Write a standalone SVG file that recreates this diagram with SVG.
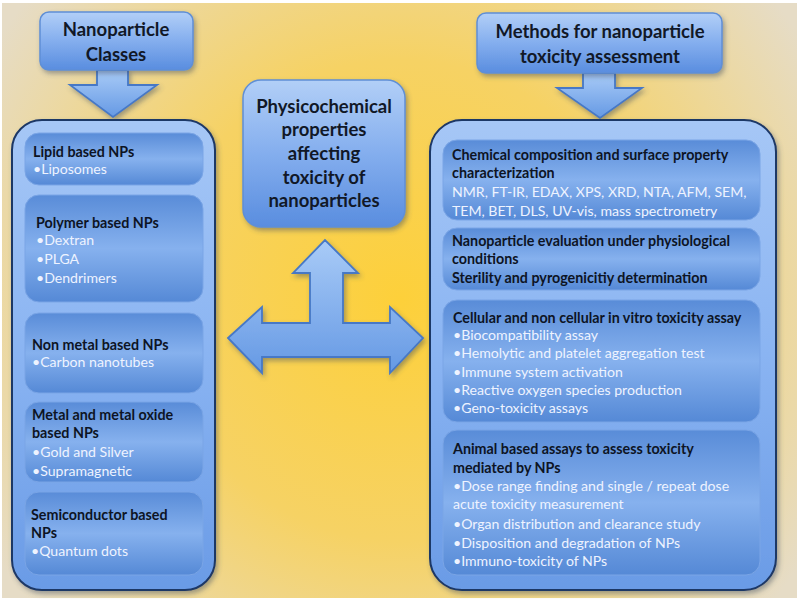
<svg xmlns="http://www.w3.org/2000/svg" width="800" height="601" viewBox="0 0 800 601">
<defs>
<radialGradient id="bg" cx="400" cy="300" r="480" gradientUnits="userSpaceOnUse">
<stop offset="0" stop-color="#fdd03a"/>
<stop offset="0.5" stop-color="#f6d264"/>
<stop offset="1" stop-color="#e6dcc6"/>
</radialGradient>
<linearGradient id="title" x1="0" y1="0" x2="0" y2="1">
<stop offset="0" stop-color="#b2cff7"/>
<stop offset="0.5" stop-color="#84aeee"/>
<stop offset="1" stop-color="#598ddf"/>
</linearGradient>
<linearGradient id="cont" x1="0" y1="0" x2="0" y2="1">
<stop offset="0" stop-color="#a6c7f6"/>
<stop offset="0.5" stop-color="#8ab4f2"/>
<stop offset="1" stop-color="#6a9be6"/>
</linearGradient>
<linearGradient id="inner" x1="0" y1="0" x2="0" y2="1">
<stop offset="0" stop-color="#598cd8"/>
<stop offset="0.5" stop-color="#86b1ee"/>
<stop offset="1" stop-color="#5589d6"/>
</linearGradient>
<linearGradient id="arr" x1="0" y1="0" x2="0" y2="1">
<stop offset="0" stop-color="#a9cbf7"/>
<stop offset="1" stop-color="#6599e4"/>
</linearGradient>
<filter id="sh" x="-10%" y="-10%" width="130%" height="130%">
<feDropShadow dx="2" dy="3" stdDeviation="2.5" flood-color="#3a4a60" flood-opacity="0.45"/>
</filter>
</defs>
<style>
.t{font-family:Lato,"Liberation Sans",sans-serif;font-weight:bold;fill:#111827;text-anchor:middle;font-size:18.5px}
.h{font-family:Lato,"Liberation Sans",sans-serif;font-weight:bold;fill:#0d1424;font-size:14.3px}
.i{font-family:Lato,"Liberation Sans",sans-serif;fill:#eef3ff;font-size:14.1px}
.title{fill:url(#title);stroke:#5f8fd6;stroke-width:1.5;filter:url(#sh)}
.cont{fill:url(#cont);stroke:#1d3766;stroke-width:2;filter:url(#sh)}
.inner{fill:url(#inner);stroke:#7aa5e6;stroke-width:1}
.arrow{fill:url(#arr);stroke:#4678c6;stroke-width:1.8;filter:url(#sh)}
</style>
<rect width="800" height="601" fill="#ffffff"/>
<rect x="2" y="3" width="795" height="595" fill="url(#bg)"/>

<g id="connectors">
<polygon class="arrow" points="97,70 128,70 128,85 157,85 113,117 70,85 97,85"/>
<polygon class="arrow" points="583,73 615,73 615,88 642,88 600,118 557,88 583,88"/>
<polygon class="arrow" points="228,338 262,307 262,323 310,323 310,273 293,273 325,240 358,273 343,273 343,323 390,323 390,307 423,338 390,373 390,357 262,357 262,373"/>
</g>

<g id="title-left">
<rect class="title" x="40" y="12" width="153" height="58" rx="9"/>
<text class="t" x="116" y="36">Nanoparticle</text>
<text class="t" x="116" y="61">Classes</text>
</g>

<g id="title-right">
<rect class="title" x="477" y="13" width="245" height="60" rx="9"/>
<text class="t" x="600" y="38">Methods for nanoparticle</text>
<text class="t" x="600" y="63">toxicity assessment</text>
</g>

<g id="center">
<rect class="title" x="243" y="80" width="162" height="147" rx="18"/>
<text class="t" x="324" y="113">Physicochemical</text>
<text class="t" x="324" y="136">properties</text>
<text class="t" x="324" y="160">affecting</text>
<text class="t" x="324" y="184">toxicity of</text>
<text class="t" x="324" y="207">nanoparticles</text>
</g>

<g id="left-container">
<rect class="cont" x="12" y="120" width="203" height="470" rx="30"/>
<g id="lipid">
<rect class="inner" x="25" y="133" width="178" height="52" rx="14"/>
<text class="h" x="33" y="157">Lipid based NPs</text>
<text class="i" x="33" y="174">•Liposomes</text>
</g>
<g id="polymer">
<rect class="inner" x="25" y="195" width="178" height="107" rx="14"/>
<text class="h" x="36" y="228">Polymer based NPs</text>
<text class="i" x="36" y="245">•Dextran</text>
<text class="i" x="36" y="264">•PLGA</text>
<text class="i" x="36" y="283">•Dendrimers</text>
</g>
<g id="nonmetal">
<rect class="inner" x="25" y="313" width="178" height="80" rx="14"/>
<text class="h" x="32" y="350">Non metal based NPs</text>
<text class="i" x="32" y="367">•Carbon nanotubes</text>
</g>
<g id="metal">
<rect class="inner" x="25" y="402" width="178" height="80" rx="14"/>
<text class="h" x="32" y="420">Metal and metal oxide</text>
<text class="h" x="32" y="438">based NPs</text>
<text class="i" x="32" y="457">•Gold and Silver</text>
<text class="i" x="32" y="476">•Supramagnetic</text>
</g>
<g id="semiconductor">
<rect class="inner" x="25" y="492" width="178" height="83" rx="14"/>
<text class="h" x="31" y="520">Semiconductor based</text>
<text class="h" x="31" y="538">NPs</text>
<text class="i" x="31" y="556">•Quantum dots</text>
</g>
</g>

<g id="right-container">
<rect class="cont" x="430" y="120" width="346" height="470" rx="32"/>
<g id="chemical">
<rect class="inner" x="443" y="140" width="317" height="80" rx="14"/>
<text class="h" x="452" y="160">Chemical composition and surface property</text>
<text class="h" x="452" y="178">characterization</text>
<text class="i" x="452" y="197">NMR, FT-IR, EDAX, XPS, XRD, NTA, AFM, SEM,</text>
<text class="i" x="452" y="216">TEM, BET, DLS, UV-vis, mass spectrometry</text>
</g>
<g id="physiological">
<rect class="inner" x="443" y="228" width="317" height="62" rx="14"/>
<text class="h" x="452" y="246">Nanoparticle evaluation under physiological</text>
<text class="h" x="452" y="264">conditions</text>
<text class="h" x="452" y="283">Sterility and pyrogenicitiy determination</text>
</g>
<g id="cellular">
<rect class="inner" x="443" y="300" width="317" height="122" rx="14"/>
<text class="h" x="453" y="323">Cellular and non cellular in vitro toxicity assay</text>
<text class="i" x="453" y="340">•Biocompatibility assay</text>
<text class="i" x="453" y="358">•Hemolytic and platelet aggregation test</text>
<text class="i" x="453" y="377">•Immune system activation</text>
<text class="i" x="453" y="395">•Reactive oxygen species production</text>
<text class="i" x="453" y="413">•Geno-toxicity assays</text>
</g>
<g id="animal">
<rect class="inner" x="443" y="430" width="317" height="145" rx="14"/>
<text class="h" x="453" y="454">Animal based assays to assess toxicity</text>
<text class="h" x="453" y="473">mediated by NPs</text>
<text class="i" x="453" y="491">•Dose range finding and single / repeat dose</text>
<text class="i" x="453" y="509">acute toxicity measurement</text>
<text class="i" x="453" y="529">•Organ distribution and clearance study</text>
<text class="i" x="453" y="548">•Disposition and degradation of NPs</text>
<text class="i" x="453" y="566">•Immuno-toxicity of NPs</text>
</g>
</g>
</svg>
